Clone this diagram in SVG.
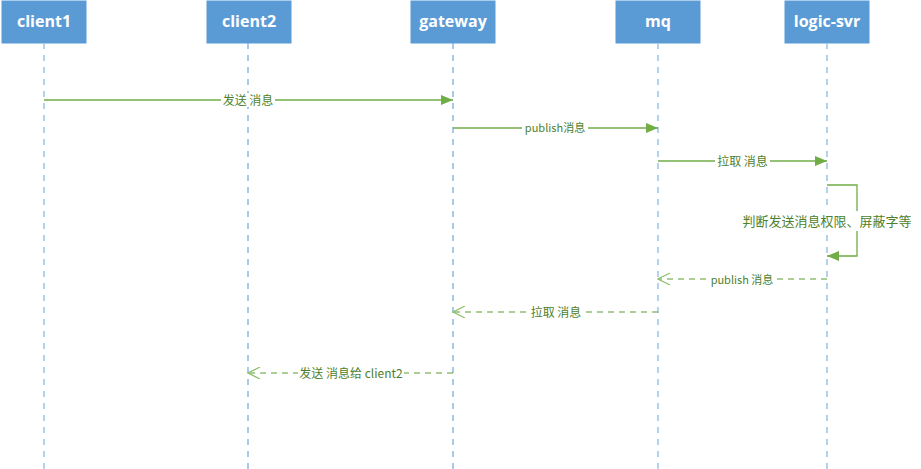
<svg xmlns="http://www.w3.org/2000/svg" width="921" height="469" viewBox="0 0 921 469">
<style>
.box{fill:#5B9BD5;stroke:#5B9BD5}
.title{font-family:"Open Sans","Liberation Sans","Noto Sans CJK SC",sans-serif;font-weight:bold;font-size:16px;fill:#ffffff;text-anchor:middle}
.life{stroke:#9DC3E6;stroke-width:1.5;stroke-dasharray:6,6;fill:none}
.life2{stroke:#6FA8DC;stroke-width:1.2;stroke-dasharray:6,6;fill:none}
.msg{stroke:#70AD47;stroke-width:1.3;fill:none}
.ret{stroke:#5E9E32;stroke-width:1.2;fill:none;stroke-dasharray:6,5}
.lbl{font-family:"Noto Sans CJK SC","Liberation Sans",sans-serif;font-size:12px;fill:#4E7F2C;text-anchor:middle}
.bg{fill:#ffffff}
</style>
<defs>
<marker id="filled" viewBox="0 0 12 10" refX="12" refY="5" markerWidth="12" markerHeight="10" markerUnits="userSpaceOnUse" orient="auto">
<path d="M0,0 L12,5 L0,10 Z" fill="#70AD47"/>
</marker>
<marker id="open" viewBox="0 0 14 12" refX="13" refY="6" markerWidth="14" markerHeight="12" markerUnits="userSpaceOnUse" orient="auto">
<path d="M1,0 L13,6 L1,12" fill="none" stroke="#8CC06A" stroke-width="1.2"/>
</marker>
</defs>
<rect width="921" height="469" fill="#ffffff"/>
<g id="client1">
<rect class="box" x="2" y="1" width="84" height="42"/>
<text class="title" x="44" y="27">client1</text>
<line class="life" x1="44" y1="43" x2="44" y2="469"/>
</g>
<g id="client2">
<rect class="box" x="207" y="1" width="84" height="42"/>
<text class="title" x="249" y="27">client2</text>
<line class="life2" x1="248" y1="43" x2="248" y2="469"/>
</g>
<g id="gateway">
<rect class="box" x="411" y="1" width="84" height="42"/>
<text class="title" x="453" y="27">gateway</text>
<line class="life2" x1="453" y1="43" x2="453" y2="469"/>
</g>
<g id="mq">
<rect class="box" x="616" y="1" width="84" height="42"/>
<text class="title" x="658" y="27">mq</text>
<line class="life" x1="658" y1="43" x2="658" y2="469"/>
</g>
<g id="logic-svr">
<rect class="box" x="785" y="1" width="84" height="42"/>
<text class="title" x="827" y="27">logic-svr</text>
<line class="life" x1="827" y1="43" x2="827" y2="469"/>
</g>
<g id="connectors">
<line class="msg" x1="44" y1="100" x2="453" y2="100" marker-end="url(#filled)"/>
<rect class="bg" x="221" y="93" width="54" height="14"/>
<text class="lbl" x="248" y="104.5">发送 消息</text>

<line class="msg" x1="453" y1="128" x2="658" y2="128" marker-end="url(#filled)"/>
<rect class="bg" x="522" y="121" width="66" height="14"/>
<text class="lbl" x="555" y="132" style="font-size:11px">publish消息</text>

<line class="msg" x1="658" y1="161" x2="827" y2="161" marker-end="url(#filled)"/>
<rect class="bg" x="715" y="154" width="55" height="14"/>
<text class="lbl" x="742.5" y="165.5">拉取 消息</text>

<path class="msg" d="M827,185 L857,185 L857,256 L827,256" marker-end="url(#filled)"/>
<rect class="bg" x="740" y="211" width="174" height="20"/>
<text class="lbl" x="827" y="225.5" style="font-size:13px">判断发送消息权限、屏蔽字等</text>

<line class="ret" x1="827" y1="279" x2="658" y2="279" marker-end="url(#open)"/>
<rect class="bg" x="708" y="272" width="68" height="14"/>
<text class="lbl" x="742" y="283.5" style="font-size:11px">publish 消息</text>

<line class="ret" x1="658" y1="312" x2="453" y2="312" marker-end="url(#open)"/>
<rect class="bg" x="529" y="305" width="54" height="14"/>
<text class="lbl" x="556" y="316.5">拉取 消息</text>

<line class="ret" x1="453" y1="373" x2="248" y2="373" marker-end="url(#open)"/>
<rect class="bg" x="298" y="366" width="106" height="14"/>
<text class="lbl" x="351" y="377.5">发送 消息给 client2</text>
</g>
</svg>
